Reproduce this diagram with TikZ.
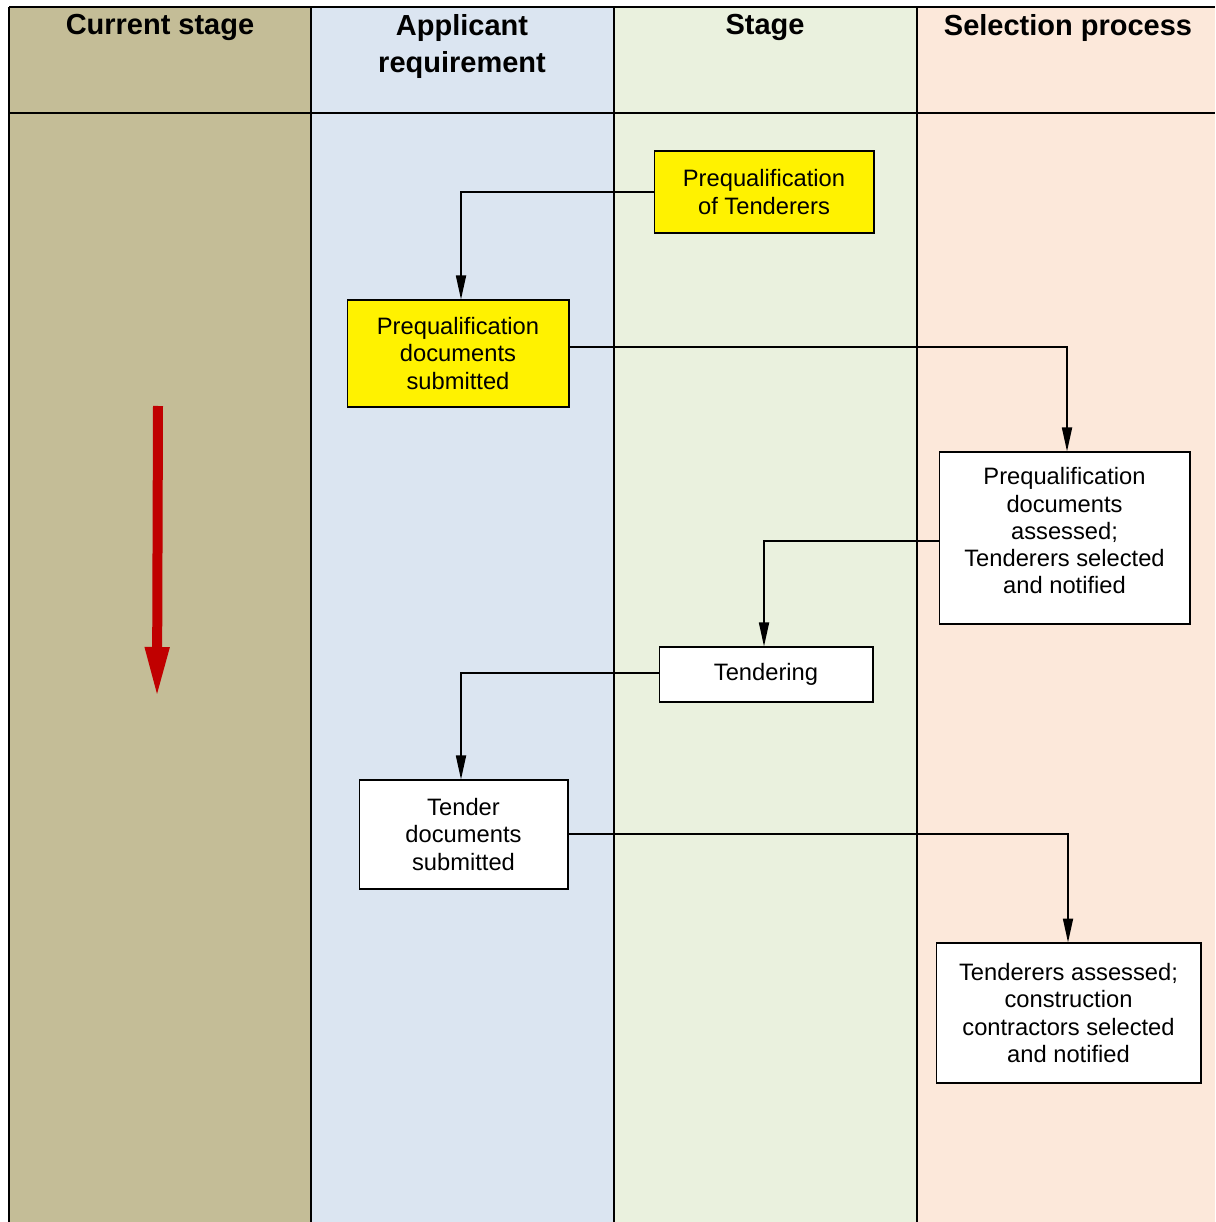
\documentclass[tikz,border=0pt]{standalone}
\usepackage{fontspec}
\setmainfont{Liberation Sans}
\usepackage{xcolor}
\usetikzlibrary{positioning, arrows.meta}

\definecolor{laneTan}{HTML}{C4BD97}
\definecolor{laneBlue}{HTML}{DBE5F1}
\definecolor{laneGreen}{HTML}{EAF1DE}
\definecolor{lanePeach}{HTML}{FCE8DA}
\definecolor{arrowRed}{HTML}{C00000}

\begin{document}
\begin{tikzpicture}[
  x=0.02cm, y=-0.02cm,
  lanehead/.style={anchor=north, align=center,
    font=\fontsize{16.5}{21.5}\selectfont\bfseries},
  stagebox/.style={
    draw=black, line width=0.6pt, inner sep=0pt,
    align=center, font=\fontsize{13.5}{15.4}\selectfont
  },
  hilite/.style={stagebox, fill=yellow},
  plain/.style={stagebox, fill=white},
  flow/.style={line width=1pt, -{Triangle[length=0.48cm,width=0.2cm]}},
  grid/.style={line width=1.4pt},
]
\useasboundingbox (0,0) rectangle (1215,1222);

% Lanes
\fill[laneTan]   (9,7)   rectangle (311,1222);
\fill[laneBlue]  (311,7) rectangle (614,1222);
\fill[laneGreen] (614,7) rectangle (917,1222);
\fill[lanePeach] (917,7) rectangle (1215,1222);
\draw[grid] (9,7) -- (1215,7);
\draw[grid] (9,113) -- (1215,113);
\foreach \xl in {9,311,614,917}
  \draw[grid] (\xl,7) -- (\xl,1222);

% Lane titles
\node[lanehead] (hcur) at (160,8)  {Current stage};
\node[lanehead] (happ) at (462,8)  {Applicant\\requirement};
\node[lanehead] (hstg) at (765,8)  {Stage};
\node[lanehead] (hsel) at (1068,8) {Selection process};

% Steps
\node[hilite, minimum width=4.4cm, minimum height=1.64cm] (pqt) at (764,192)
  {Prequalification\\of Tenderers};
\node[hilite, minimum width=4.44cm, minimum height=2.14cm] (pqd) at (458,353.5)
  {Prequalification\\documents\\submitted};
\node[plain, minimum width=5.02cm, minimum height=3.44cm, text depth=0.3cm] (pqa) at (1064.5,538)
  {Prequalification\\documents\\assessed;\\Tenderers selected\\and notified};
\node[plain, minimum width=4.28cm, minimum height=1.1cm] (tnd) at (766,674.5)
  {Tendering};
\node[plain, minimum width=4.18cm, minimum height=2.18cm] (tds) at (463.5,834.5)
  {Tender\\documents\\submitted};
\node[plain, minimum width=5.3cm, minimum height=2.8cm] (tas) at (1068.5,1013)
  {Tenderers assessed;\\construction\\contractors selected\\and notified};

% Connectors
\draw[flow] (pqt.west) -| ([xshift=0.06cm]pqd.north);
\draw[flow] ([yshift=0.13cm]pqd.east) -| ([xshift=0.05cm]pqa.north);
\draw[flow] ([yshift=-0.06cm]pqa.west) -| ([xshift=-0.04cm]tnd.north);
\draw[flow] ([yshift=0.03cm]tnd.west) -| ([xshift=-0.05cm]tds.north);
\draw[flow] ([yshift=0.01cm]tds.east) -| ([xshift=-0.01cm]tas.north);

% Time direction
\coordinate (tstart) at (158,406);
\coordinate (tend) at (157,699);
\draw[arrowRed, line width=0.2cm, -{Triangle[length=1.04cm,width=0.44cm]}]
  (tstart) -- (tend);

\end{tikzpicture}
\end{document}
